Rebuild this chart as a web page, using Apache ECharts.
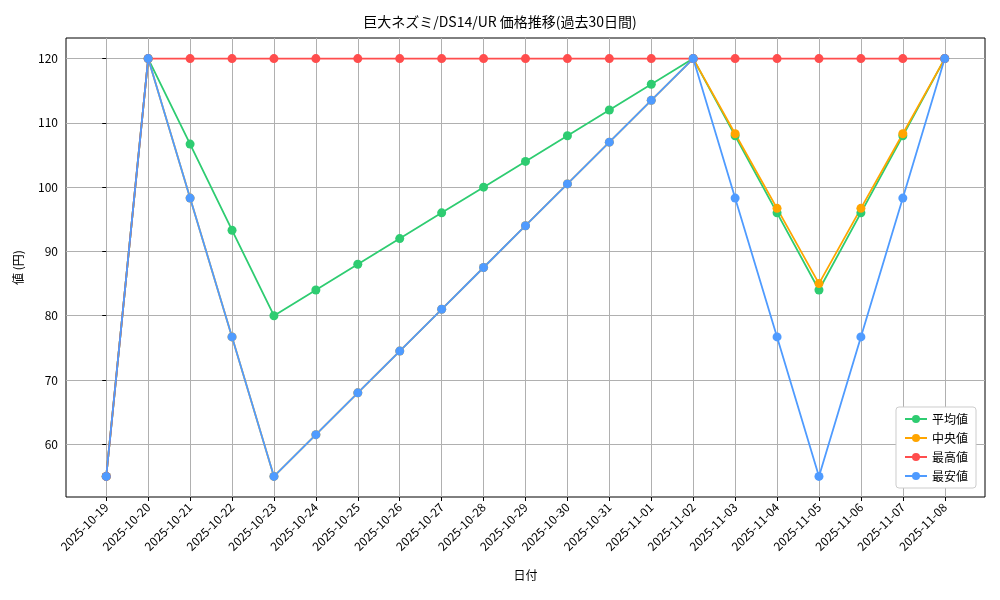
<!DOCTYPE html>
<html><head><meta charset="utf-8">
<script src="https://cdn.jsdelivr.net/npm/echarts@6/dist/echarts.min.js"></script>
<style>html,body{margin:0;background:#fff}#c{width:1000px;height:600px}</style>
</head><body><div id="c"></div>
<script>
const dates = ["2025-10-19","2025-10-20","2025-10-21","2025-10-22","2025-10-23","2025-10-24","2025-10-25","2025-10-26","2025-10-27","2025-10-28","2025-10-29","2025-10-30","2025-10-31","2025-11-01","2025-11-02","2025-11-03","2025-11-04","2025-11-05","2025-11-06","2025-11-07","2025-11-08"]
const avgVals = [55,120,106.7,93.3,80,84,88,92,96,100,104,108,112,116,120,108,96,84,96,108,120]
const medVals = [55,120,98.3,76.7,55,61.5,68,74.5,81,87.5,94,100.5,107,113.5,120,108.3,96.7,85,96.7,108.3,120]
const maxVals = [55,120,120,120,120,120,120,120,120,120,120,120,120,120,120,120,120,120,120,120,120]
const minVals = [55,120,98.3,76.7,55,61.5,68,74.5,81,87.5,94,100.5,107,113.5,120,98.3,76.7,55,76.7,98.3,120]
const yTicks = [60,70,80,90,100,110,120]

const font = "'Noto Sans CJK JP', 'DejaVu Sans'"
const chart = echarts.init(document.getElementById("c"))
const pts = (arr) => arr.map((v, i) => [i, v])
const mk = (name, vals, color) => ({
  name, type: "line", data: pts(vals), symbol: "circle", symbolSize: 9,
  itemStyle: { color }, lineStyle: { color, width: 1.8 }
})
const idx = dates.map((d, i) => i)

chart.setOption({
  animation: false,
  textStyle: { fontFamily: font },
  title: { text: "巨大ネズミ/DS14/UR 価格推移(過去30日間)", left: "center", top: 10,
    textStyle: { fontSize: 14, fontWeight: "normal", color: "#000", fontFamily: font } },
  grid: { left: 66, right: 15, top: 38, bottom: 103, show: true, borderColor: "#000", borderWidth: 1 },
  legend: { orient: "vertical", right: 24, bottom: 112, itemWidth: 22, itemHeight: 10,
    backgroundColor: "#fff", borderColor: "#ccc", borderWidth: 1, borderRadius: 3, padding: [6, 8],
    itemGap: 7, textStyle: { fontSize: 12, color: "#000" },
    data: ["平均値", "中央値", "最高値", "最安値"] },
  xAxis: {
    type: "value", min: -0.96, max: 20.96, name: "日付", nameLocation: "middle", nameGap: 72,
    nameTextStyle: { fontSize: 12, color: "#000" },
    axisLine: { show: false },
    axisTick: { customValues: idx, length: 4, lineStyle: { color: "#000" } },
    axisLabel: { customValues: idx, rotate: 45, color: "#000", fontSize: 12, margin: 8,
      formatter: (v) => dates[Math.round(v)] },
    splitLine: { show: true, lineStyle: { color: "#b0b0b0" } }
  },
  yAxis: {
    type: "value", min: 51.8, max: 123.2, name: "値 (円)", nameLocation: "middle", nameGap: 42,
    nameTextStyle: { fontSize: 12, color: "#000" },
    axisLine: { show: false },
    axisTick: { show: true, customValues: yTicks, length: 4, lineStyle: { color: "#000" } },
    axisLabel: { customValues: yTicks, color: "#000", fontSize: 12 },
    splitLine: { show: true, lineStyle: { color: "#b0b0b0" } }
  },
  series: [
    mk("平均値", avgVals, "#2ecc71"),
    mk("中央値", medVals, "#ffa500"),
    mk("最高値", maxVals, "#ff4d4d"),
    mk("最安値", minVals, "#4f9bff")
  ]
})
</script></body></html>
